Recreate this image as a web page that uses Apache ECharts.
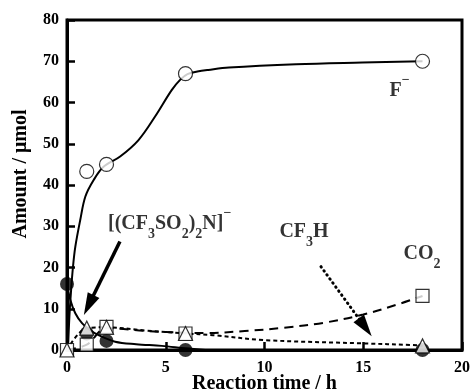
<!DOCTYPE html>
<html>
<head>
<meta charset="utf-8">
<script src="https://cdn.jsdelivr.net/npm/echarts@6/dist/echarts.min.js"></script>
<style>
html,body{margin:0;padding:0;background:#fff;}
#c{width:471px;height:391px;}
</style>
</head>
<body>
<div id="c"></div>
<script>
// ---- data (time in h, amount in µmol) ----
const fMarkers = [[1, 43.3], [2, 45], [6, 67], [18, 70]];
const fCurve = [[0.05, 0], [0.12, 8], [0.2, 14], [0.3, 20], [0.42, 25], [0.67, 31.5], [0.93, 37.2], [1.35, 41.2], [1.85, 44.4], [2.69, 46.9], [3.62, 50.9], [4.46, 56.6], [5.3, 63], [5.75, 65.6], [6.1, 66.9], [6.6, 67.5], [7.15, 67.9], [8.2, 68.5], [11.6, 69.3], [14.95, 69.7], [18, 70]];
const anionMarkers = [[0, 16], [1, 4], [2, 2.2], [6, 0], [18, 0]];
const anionCurve = [[0, 16], [0.17, 12.1], [0.42, 8.9], [0.76, 6.5], [1.18, 4.8], [1.6, 3.6], [2.44, 2], [3.5, 1.4], [4.8, 1], [6, 0.4], [7, 0]];
const cf3hMarkers = [[0, 0], [1, 5.3], [2, 5.5], [6, 4], [18, 1]];
const cf3hCurve = [[0, 0], [1, 5.3], [2, 5.5], [4, 4.7], [6, 4], [7.4, 3.6], [10, 2.4], [15, 1.6], [17.5, 1.2], [18, 1]];
const co2Markers = [[0, 0], [1, 1.3], [2, 5.6], [6, 4], [18, 13.1]];
const co2Curve = [[0, 0], [1, 1.3], [2, 5.3], [4, 4.6], [6, 4.2], [7, 4.1], [9, 4.6], [11, 5.4], [13, 6.6], [15, 8.6], [16.9, 11.3], [18, 13.1]];
const labelPoints = [
  {name: 'F', value: [16.84, 62.9]},
  {name: 'anion', value: [5.2, 30.6]},
  {name: 'CF3H', value: [12.0, 28.6]},
  {name: 'CO2', value: [17.98, 23.3]}
];
const arrowSolid = [[2.68, 26.3], [1.1, 10.9]];
const arrowDotted = [[12.86, 20.2], [15.1, 5.5]];
const xTicks = [0, 5, 10, 15, 20];
const yTicks = [0, 10, 20, 30, 40, 50, 60, 70, 80];

const FONT = '"Liberation Serif", "Times New Roman", serif';
const labelTexts = {
  F: '{b|F}{p|−}',
  anion: '{b|[(CF}{s|3}{b|SO}{s|2}{b|)}{s|2}{b|N]}{p|−}',
  CF3H: '{b|CF}{s|3}{b|H}',
  CO2: '{b|CO}{s|2}'
};

const chart = echarts.init(document.getElementById('c'), null, {renderer: 'canvas'});
const markerStyle = {color: '#fff', borderColor: '#000', borderWidth: 1.2};
chart.setOption({
  animation: false,
  backgroundColor: '#fff',
  grid: {left: 67, right: 9, top: 20, bottom: 41, containLabel: false, outerBoundsMode: 'none', show: true, borderColor: '#000', borderWidth: 3, backgroundColor: 'transparent'},
  xAxis: {
    type: 'value', min: xTicks[0], max: xTicks[xTicks.length - 1], interval: 5,
    name: 'Reaction time / h', nameLocation: 'middle', nameGap: 24, nameMoveOverlap: false,
    nameTextStyle: {fontFamily: FONT, fontWeight: 'bold', fontSize: 20, color: '#000'},
    axisLine: {lineStyle: {color: '#000', width: 3}},
    axisTick: {inside: true, length: 8, lineStyle: {color: '#000', width: 2.5}},
    axisLabel: {fontFamily: FONT, fontWeight: 'bold', fontSize: 16, color: '#000', margin: 10},
    splitLine: {show: false}
  },
  yAxis: {
    type: 'value', min: yTicks[0], max: yTicks[yTicks.length - 1], interval: 10,
    name: 'Amount / μmol', nameLocation: 'middle', nameGap: 36, nameRotate: 90, nameMoveOverlap: false,
    nameTextStyle: {fontFamily: FONT, fontWeight: 'bold', fontSize: 20, color: '#000', padding: [0, 0, 0, 22]},
    axisLine: {lineStyle: {color: '#000', width: 3}},
    axisTick: {inside: true, length: 8, lineStyle: {color: '#000', width: 2.5}},
    axisLabel: {fontFamily: FONT, fontWeight: 'bold', fontSize: 16, color: '#000', margin: 8},
    splitLine: {show: false}
  },
  series: [
    {type: 'line', data: fCurve, smooth: 0.35, showSymbol: false, lineStyle: {color: '#000', width: 2}, z: 2},
    {type: 'line', data: anionCurve, smooth: 0.35, showSymbol: false, lineStyle: {color: '#000', width: 2}, z: 2},
    {type: 'line', data: co2Curve, smooth: 0.35, showSymbol: false, lineStyle: {color: '#000', width: 2, type: [9, 6]}, z: 2},
    {type: 'line', data: cf3hCurve, smooth: 0.35, showSymbol: false, lineStyle: {color: '#000', width: 2, type: [4, 3]}, z: 2},
    {type: 'scatter', data: anionMarkers, symbol: 'circle', symbolSize: 14, itemStyle: {color: '#000'}, z: 3},
    {type: 'scatter', data: co2Markers, symbol: 'rect', symbolSize: 13, itemStyle: markerStyle, z: 4},
    {type: 'scatter', data: cf3hMarkers, symbol: 'triangle', symbolSize: 14, itemStyle: markerStyle, z: 5},
    {type: 'scatter', data: fMarkers, symbol: 'circle', symbolSize: 14, itemStyle: markerStyle, z: 6},
    {
      type: 'scatter', data: labelPoints, symbolSize: 0, z: 7, silent: true,
      label: {
        show: true, position: 'inside', color: '#000',
        formatter: p => labelTexts[p.name],
        rich: {
          b: {fontFamily: FONT, fontWeight: 'bold', fontSize: 20, lineHeight: 35, verticalAlign: 'middle', color: '#000'},
          s: {fontFamily: FONT, fontWeight: 'bold', fontSize: 14, lineHeight: 11, verticalAlign: 'bottom', color: '#000'},
          p: {fontFamily: FONT, fontWeight: 'bold', fontSize: 14, lineHeight: 24, verticalAlign: 'top', color: '#000'}
        }
      },
      markLine: {
        silent: true, animation: false, symbol: ['none', 'triangle'], symbolSize: [13, 22],
        label: {show: false},
        data: [
          [{coord: arrowSolid[0], lineStyle: {color: '#000', width: 3.5, type: 'solid'}}, {coord: arrowSolid[1]}],
          [{coord: arrowDotted[0], lineStyle: {color: '#000', width: 3, type: [0.5, 4.5], cap: 'round'}, symbolSize: [13, 18]}, {coord: arrowDotted[1]}]
        ]
      }
    }
  ]
});
</script>
</body>
</html>
